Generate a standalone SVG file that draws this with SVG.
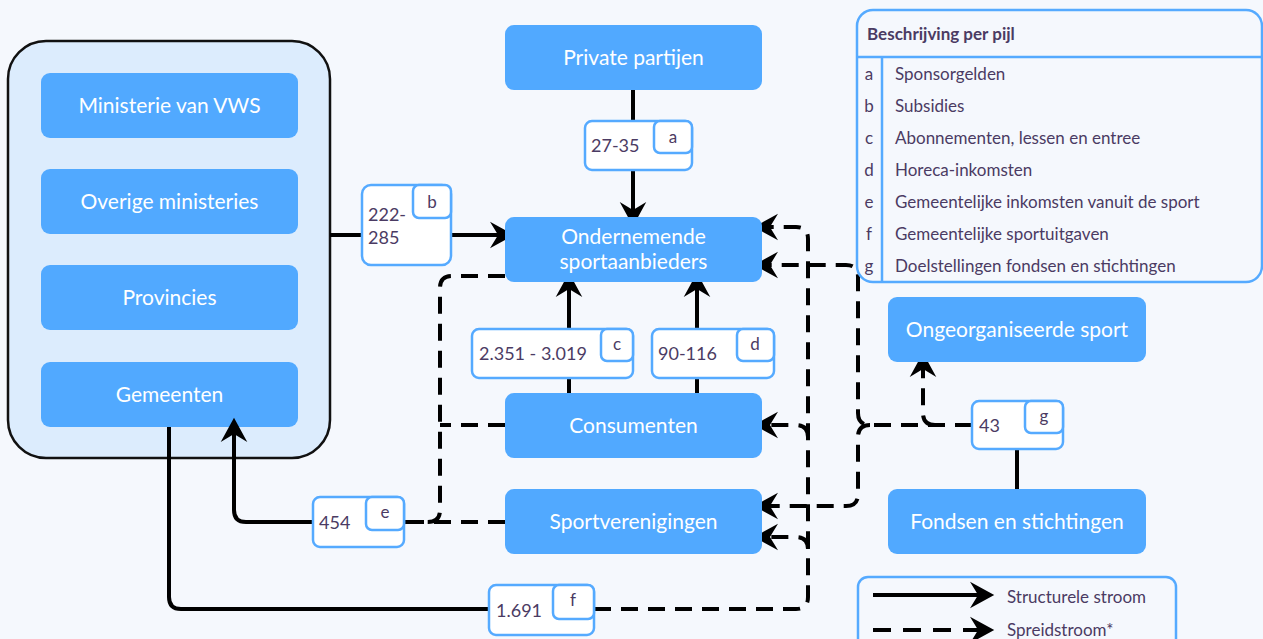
<svg xmlns="http://www.w3.org/2000/svg" width="1263" height="639" viewBox="0 0 1263 639">
<defs>
<style>
.node{fill:#51a9ff}
.nt{font-family:Lato,"Noto Sans",sans-serif;font-size:21px;fill:#fff;text-anchor:middle}
.lb{fill:#fff;stroke:#55aaff;stroke-width:2.5}
.lt{font-family:Lato,"Noto Sans",sans-serif;font-size:18px;fill:#4b3b63}
.tg{font-family:Lato,"Noto Sans",sans-serif;font-size:17px;fill:#4b3b63;text-anchor:middle}
.s{fill:none;stroke:#000;stroke-width:4}
.d{fill:none;stroke:#000;stroke-width:4;stroke-dasharray:17 10}
.lg{font-family:Lato,"Noto Sans",sans-serif;font-size:17px;fill:#4b3b63}
</style>
<marker id="arr" markerUnits="userSpaceOnUse" markerWidth="30" markerHeight="30" viewBox="-24 -13 26 26" refX="-8" refY="0" orient="auto">
<path d="M0,0 L-21,-11.5 L-14,0 L-21,11.5 Z" fill="#000"/>
</marker>
</defs>
<rect x="0" y="0" width="1263" height="639" fill="#f5f8fd"/>

<g id="overheid">
<rect x="8" y="41" width="322" height="417" rx="38" fill="#dcecfd" stroke="#111" stroke-width="2.5"/>
</g>
<g id="ministerie-vws"><rect class="node" x="41" y="73" width="257" height="65" rx="9"/><text class="nt" x="169.5" y="113">Ministerie van VWS</text></g>
<g id="overige-ministeries"><rect class="node" x="41" y="169" width="257" height="65" rx="9"/><text class="nt" x="169.5" y="209">Overige ministeries</text></g>
<g id="provincies"><rect class="node" x="41" y="265" width="257" height="65" rx="9"/><text class="nt" x="169.5" y="305">Provincies</text></g>
<g id="gemeenten"><rect class="node" x="41" y="362" width="257" height="65" rx="9"/><text class="nt" x="169.5" y="402">Gemeenten</text></g>

<g id="connectors">
<path class="s" d="M633,89 V121"/>
<path class="s" d="M633,170 V217" marker-end="url(#arr)"/>
<path class="s" d="M330,235 H362"/>
<path class="s" d="M451,235 H505" marker-end="url(#arr)"/>
<path class="s" d="M569,393 V378"/>
<path class="s" d="M569,329 V282" marker-end="url(#arr)"/>
<path class="s" d="M697,393 V378"/>
<path class="s" d="M697,329 V282" marker-end="url(#arr)"/>
<path class="s" d="M1017,489 V449"/>
<path class="s" d="M313,522 H246 Q234,522 234,510 V427" marker-end="url(#arr)"/>
<path class="s" d="M169,427 V597 Q169,609 181,609 H489"/>

<path class="d" d="M594,609 H796 Q808,609 808,597 V239 Q808,227 796,227 H763" marker-end="url(#arr)"/>
<path class="d" d="M808,437 Q808,425 796,425 H763" marker-end="url(#arr)"/>
<path class="d" d="M808,549 Q808,537 796,537 H763" marker-end="url(#arr)"/>
<path class="d" d="M972,425 H870 Q858,425 858,413 V277 Q858,265 846,265 H763" marker-end="url(#arr)"/>
<path class="d" d="M870,425 Q858,425 858,437 V494 Q858,506 846,506 H763" marker-end="url(#arr)"/>
<path class="d" d="M935,425 Q923,425 923,413 V362" marker-end="url(#arr)"/>
<path class="d" d="M505,522 H404"/>
<path class="d" d="M505,276 H452 Q440,276 440,288 V510 Q440,522 428,522 H404"/>
<path class="d" d="M505,425 H440"/>
</g>

<g id="private-partijen"><rect class="node" x="505" y="25" width="257" height="65" rx="9"/><text class="nt" x="633.5" y="65">Private partijen</text></g>
<g id="ondernemende-sportaanbieders"><rect class="node" x="505" y="217" width="257" height="65" rx="9"/><text class="nt" x="633.5" y="244">Ondernemende</text><text class="nt" x="633.5" y="269">sportaanbieders</text></g>
<g id="consumenten"><rect class="node" x="505" y="393" width="257" height="65" rx="9"/><text class="nt" x="633.5" y="433">Consumenten</text></g>
<g id="sportverenigingen"><rect class="node" x="505" y="489" width="257" height="65" rx="9"/><text class="nt" x="633.5" y="529">Sportverenigingen</text></g>
<g id="ongeorganiseerde-sport"><rect class="node" x="888" y="297" width="258" height="65" rx="9"/><text class="nt" x="1017" y="337">Ongeorganiseerde sport</text></g>
<g id="fondsen-stichtingen"><rect class="node" x="888" y="489" width="258" height="65" rx="9"/><text class="nt" x="1017" y="529">Fondsen en stichtingen</text></g>

<g id="label-a"><rect class="lb" x="585" y="121" width="107" height="49" rx="7"/><rect class="lb" x="654" y="121" width="38" height="32" rx="6"/><text class="lt" x="591" y="152">27-35</text><text class="tg" x="673" y="143">a</text></g>
<g id="label-b"><rect class="lb" x="362" y="185" width="89" height="80" rx="9"/><rect class="lb" x="413" y="185" width="38" height="33" rx="6"/><text class="lt" x="368" y="221">222-</text><text class="lt" x="368" y="244">285</text><text class="tg" x="432" y="208">b</text></g>
<g id="label-c"><rect class="lb" x="472" y="329" width="161" height="49" rx="7"/><rect class="lb" x="601" y="329" width="32" height="32" rx="6"/><text class="lt" x="479" y="360">2.351 - 3.019</text><text class="tg" x="617" y="350">c</text></g>
<g id="label-d"><rect class="lb" x="652" y="329" width="122" height="49" rx="7"/><rect class="lb" x="737" y="329" width="37" height="32" rx="6"/><text class="lt" x="658" y="360">90-116</text><text class="tg" x="755" y="350">d</text></g>
<g id="label-g"><rect class="lb" x="972" y="401" width="91" height="48" rx="7"/><rect class="lb" x="1025" y="401" width="38" height="32" rx="6"/><text class="lt" x="979" y="432">43</text><text class="tg" x="1044" y="422">g</text></g>
<g id="label-e"><rect class="lb" x="313" y="497" width="91" height="50" rx="7"/><rect class="lb" x="366" y="497" width="38" height="33" rx="6"/><text class="lt" x="319" y="529">454</text><text class="tg" x="385" y="518">e</text></g>
<g id="label-f"><rect class="lb" x="489" y="585" width="105" height="50" rx="7"/><rect class="lb" x="553" y="585" width="41" height="34" rx="6"/><text class="lt" x="496" y="617">1.691</text><text class="tg" x="573" y="606">f</text></g>

<g id="legenda-pijlen">
<rect x="857" y="10" width="405" height="272" rx="16" fill="#f5f8fd" stroke="#55aaff" stroke-width="2.5"/>
<path d="M857,57 H1262 M882,57 V282" stroke="#55aaff" stroke-width="2.5" fill="none"/>
<text class="lg" x="867" y="40" font-weight="bold" font-size="16">Beschrijving per pijl</text>
<g class="lg">
<text x="869" y="80" text-anchor="middle">a</text><text x="895" y="80">Sponsorgelden</text>
<text x="869" y="112" text-anchor="middle">b</text><text x="895" y="112">Subsidies</text>
<text x="869" y="144" text-anchor="middle">c</text><text x="895" y="144">Abonnementen, lessen en entree</text>
<text x="869" y="176" text-anchor="middle">d</text><text x="895" y="176">Horeca-inkomsten</text>
<text x="869" y="208" text-anchor="middle">e</text><text x="895" y="208">Gemeentelijke inkomsten vanuit de sport</text>
<text x="869" y="240" text-anchor="middle">f</text><text x="895" y="240">Gemeentelijke sportuitgaven</text>
<text x="869" y="272" text-anchor="middle">g</text><text x="895" y="272">Doelstellingen fondsen en stichtingen</text>
</g>
</g>

<g id="legenda-stromen">
<rect x="858" y="577" width="318" height="80" rx="10" fill="#f5f8fd" stroke="#55aaff" stroke-width="2.5"/>
<path class="s" d="M873,595 H985" marker-end="url(#arr)"/>
<path class="d" d="M873,630 H985" style="stroke-dasharray:18 12" marker-end="url(#arr)"/>
<text class="lg" x="1007" y="603">Structurele stroom</text>
<text class="lg" x="1007" y="636">Spreidstroom*</text>
</g>
</svg>
